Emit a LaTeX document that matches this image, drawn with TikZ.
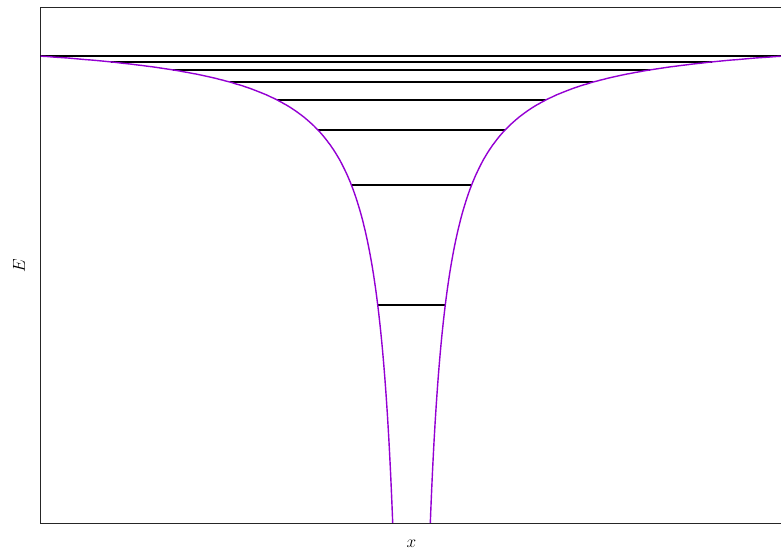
\documentclass[tikz,border=0pt]{standalone}
\usepackage{tikz}
\definecolor{wellpurple}{RGB}{148,0,211}
\begin{document}
\begin{tikzpicture}[x=1pt, y=-1pt,
    frame/.style={line width=1pt, draw=black!85},
    level/.style={line width=1.4pt, black},
    well/.style={line width=1.4pt, wellpurple},
    axislabel/.style={font=\fontsize{16}{18}\selectfont}
]
\useasboundingbox (0,0) rectangle (781,552);

% well depth constant, cut-off and centre (pixels)
\pgfmathsetmacro{\cc}{9248}
\pgfmathsetmacro{\LL}{371.5}
\def\xo{411.5}
\def\yo{56}

\draw[frame] (40,7) rectangle (785,523);
\draw[level] (40,\yo) -- (785,\yo);

% bound levels
\foreach \d in {6,14,26,44,74,129,249} {
    \pgfmathsetmacro{\hw}{1/(\d/\cc+1/\LL)}
    \draw[level] (\xo-\hw,\yo+\d) -- (\xo+\hw,\yo+\d);
}

% potential
\draw[well] plot[domain=2.934:5.918, samples=160, variable=\t]
    ({\xo-exp(\t)}, {\yo+\cc*(1/exp(\t)-1/\LL)});
\draw[well] plot[domain=2.934:5.918, samples=160, variable=\t]
    ({\xo+exp(\t)}, {\yo+\cc*(1/exp(\t)-1/\LL)});

\node[axislabel] (xlab) at (411.5,544) {$x$};
\node[axislabel, rotate=90] (elab) at (19,266) {$E$};

\end{tikzpicture}
\end{document}
